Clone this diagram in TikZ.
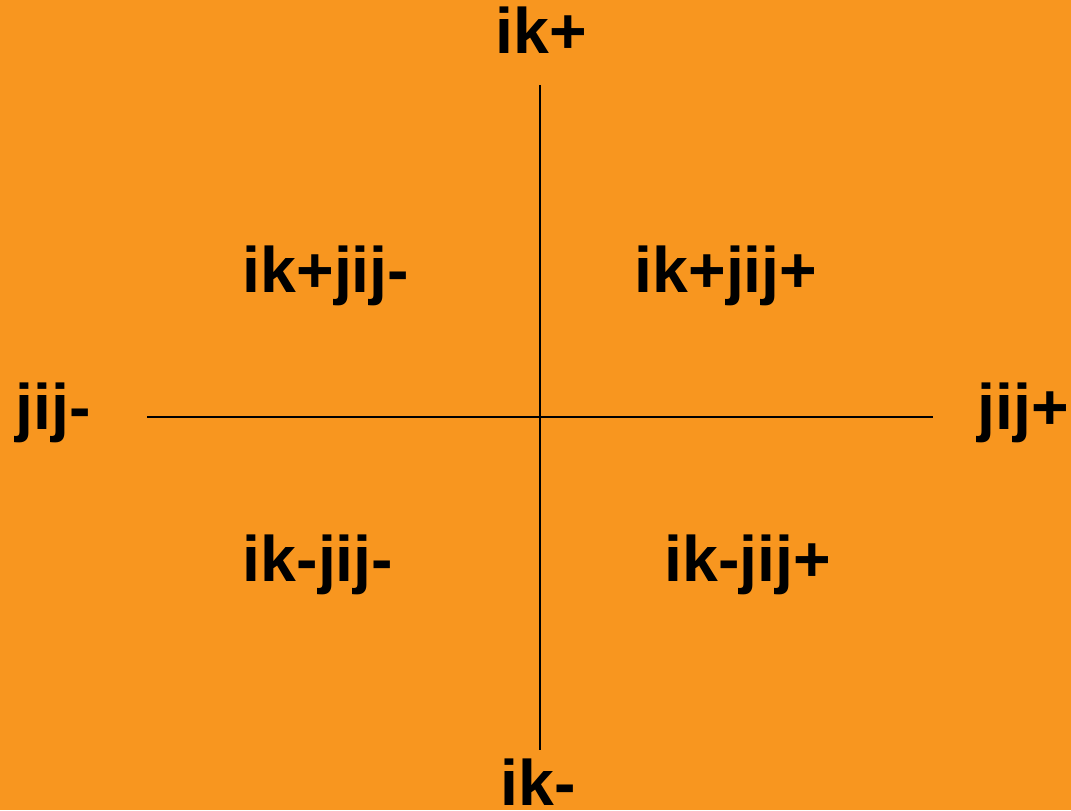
\documentclass[tikz,border=0pt]{standalone}
\usepackage{fontspec}
\setmainfont{Liberation Sans}
\definecolor{bgorange}{HTML}{F8961F}

\begin{document}
\begin{tikzpicture}[x=0.01cm, y=-0.01cm,
    lbl/.style={font=\fontsize{18.3}{20}\selectfont\bfseries, anchor=base, inner sep=0pt},
    axis/.style={line width=0.7pt, black}]
    % background
    \fill[bgorange] (0,0) rectangle (1071,810);
    \useasboundingbox (0,0) rectangle (1071,810);
    %%% axes
    \coordinate (top) at (540,85);
    \coordinate (bottom) at (540,750);
    \coordinate (left) at (147,417);
    \coordinate (right) at (933,417);
    \draw[axis] (top) -- (bottom);
    \draw[axis] (left) -- (right);
    %%% axis ends
    \node[lbl] (ikp) at (541,54) {ik+};
    \node[lbl] (ikm) at (538,805) {ik-};
    \node[lbl] (jijm) at (53,429) {jij-};
    \node[lbl] (jijp) at (1023,429) {jij+};
    %%% quadrants
    \node[lbl] (q2) at (326,293) {ik+jij-};
    \node[lbl] (q1) at (726,293) {ik+jij+};
    \node[lbl] (q3) at (318,581) {ik-jij-};
    \node[lbl] (q4) at (748,581) {ik-jij+};
\end{tikzpicture}
\end{document}
